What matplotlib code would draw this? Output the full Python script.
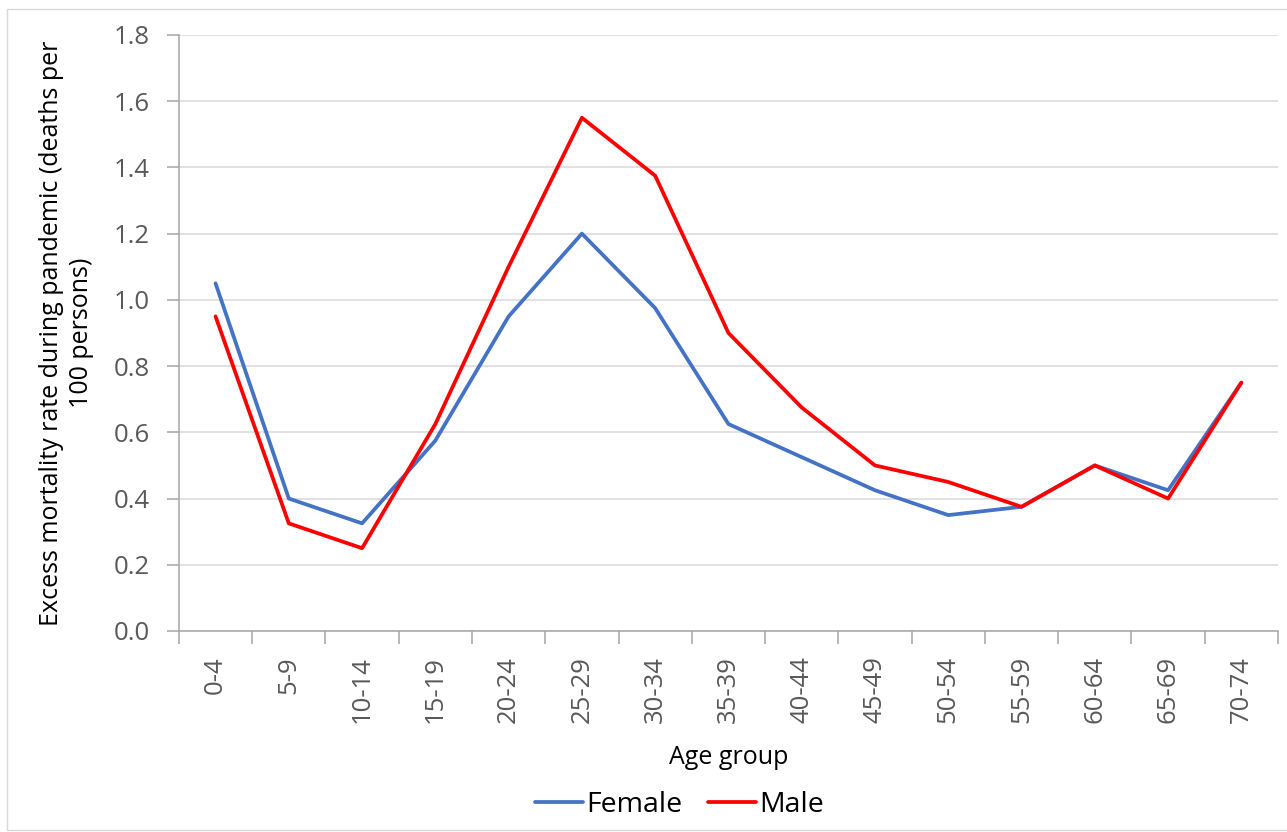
import numpy as np
import matplotlib
matplotlib.use('Agg')
import matplotlib.pyplot as plt
from matplotlib.patches import Rectangle

# data
age_groups = ['0-4', '5-9', '10-14', '15-19', '20-24', '25-29', '30-34', '35-39',
              '40-44', '45-49', '50-54', '55-59', '60-64', '65-69', '70-74']
female = [1.05, 0.40, 0.325, 0.575, 0.95, 1.20, 0.975, 0.625,
          0.525, 0.425, 0.35, 0.375, 0.50, 0.425, 0.75]
male = [0.95, 0.325, 0.25, 0.625, 1.10, 1.55, 1.375, 0.90,
        0.675, 0.50, 0.45, 0.375, 0.50, 0.40, 0.75]

plt.rcParams['font.family'] = ['Open Sans', 'DejaVu Sans']

fig = plt.figure(figsize=(12.87, 8.32), dpi=100)
ax = fig.add_axes([0.139, 0.2416, 0.854, 0.7164])

# outer chart frame
fig.patches.append(Rectangle((7/1287, 2/832), 1290/1287, 821/832, transform=fig.transFigure,
                             fill=False, edgecolor='#D9D9D9', lw=1.0))

x = np.arange(len(age_groups))
ax.plot(x, female, color='#4472C4', lw=2.7, label='Female', solid_capstyle='round')
ax.plot(x, male, color='#FF0000', lw=2.7, label='Male', solid_capstyle='round')

ax.set_xlim(-0.5, len(age_groups) - 0.5)
ax.set_ylim(0, 1.8)
ax.set_yticks(np.arange(0, 1.81, 0.2))
ax.set_yticklabels([f'{v:.1f}' for v in np.arange(0, 1.81, 0.2)])
ax.yaxis.grid(True, color='#D9D9D9', lw=1.1)
ax.set_axisbelow(True)

# category ticks at boundaries, labels at centres
ax.set_xticks(np.arange(-0.5, len(age_groups), 1.0))
ax.set_xticklabels([])
ax.set_xticks(x, minor=True)
ax.set_xticklabels(age_groups, minor=True, rotation=90)
ax.tick_params(axis='x', which='major', length=9, width=1.1, color='#A6A6A6', direction='out')
ax.tick_params(axis='x', which='minor', length=0, pad=18, labelsize=18.5, labelcolor='#595959')
ax.tick_params(axis='y', length=9, width=1.1, color='#A6A6A6', pad=12,
               labelsize=18.5, labelcolor='#595959')

for s in ['top', 'right']:
    ax.spines[s].set_visible(False)
for s in ['left', 'bottom']:
    ax.spines[s].set_color('#A6A6A6')
    ax.spines[s].set_linewidth(1.1)

ax.set_xlabel('Age group', fontsize=18, labelpad=16)
ax.set_ylabel('Excess mortality rate during pandemic (deaths per\n100 persons)',
              fontsize=18, labelpad=14, linespacing=1.25)

fig.legend(loc='center', bbox_to_anchor=(0.528, 0.033), ncol=2, frameon=False,
           fontsize=20.5, handlelength=1.7, handletextpad=0.1, columnspacing=0.9,
           borderpad=0.0)

fig.savefig('out.png', dpi=100)
